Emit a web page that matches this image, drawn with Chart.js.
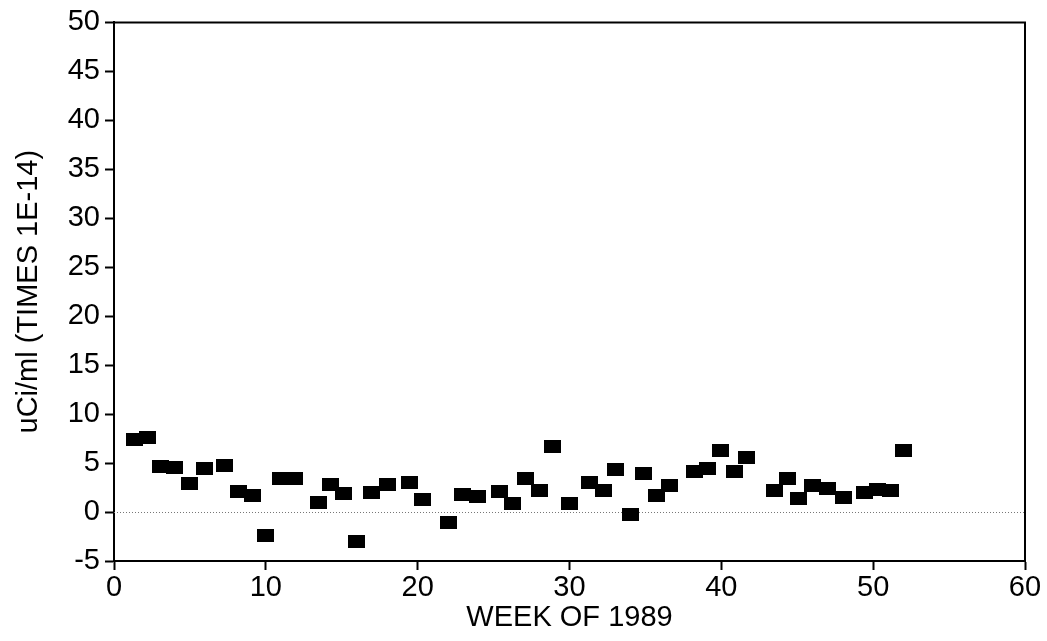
<!DOCTYPE html>
<html>
<head>
<meta charset="utf-8">
<script src="https://cdn.jsdelivr.net/npm/chart.js@4"></script>
<style>
  body { margin: 0; background: #fff; }
</style>
</head>
<body>
<canvas id="myChart" width="1047" height="641"></canvas>
<script>
const weeks = [1.35, 2.2, 3.05, 4.0, 5.0, 5.95, 7.3, 8.2, 9.15, 10.0,
  10.95, 11.9, 13.5, 14.25, 15.1, 15.95, 16.95, 18.0, 19.45, 20.3,
  22.0, 22.95, 23.95, 25.4, 26.25, 27.1, 28.0, 28.9, 30.0, 31.35,
  32.25, 33.05, 34.05, 34.85, 35.75, 36.6, 38.2, 39.1, 39.95, 40.85,
  41.65, 43.5, 44.35, 45.1, 46.0, 47.0, 48.05, 49.45, 50.3, 51.15, 52.0];
const values = [7.45, 7.6, 4.6, 4.5, 2.9, 4.45, 4.75, 2.05, 1.7, -2.4,
  3.4, 3.4, 1.0, 2.85, 1.9, -3.0, 1.95, 2.85, 3.05, 1.25,
  -1.05, 1.75, 1.55, 2.1, 0.85, 3.45, 2.15, 6.65, 0.85, 3.0,
  2.25, 4.35, -0.3, 3.9, 1.7, 2.75, 4.15, 4.45, 6.25, 4.1,
  5.6, 2.15, 3.45, 1.35, 2.75, 2.45, 1.45, 1.95, 2.35, 2.25, 6.25];
const xTicks = [0, 10, 20, 30, 40, 50, 60];
const yTicks = [-5, 0, 5, 10, 15, 20, 25, 30, 35, 40, 45, 50];

const points = weeks.map((w, i) => ({ x: w, y: values[i] }));

// black filled rectangle marker, a bit wider than tall
const marker = document.createElement('canvas');
marker.width = 17;
marker.height = 13;
const mctx = marker.getContext('2d');
mctx.fillStyle = '#000';
mctx.fillRect(0, 0, 17, 13);

// dotted zero line + box frame round the plot
const framePlugin = {
  id: 'frame',
  beforeDatasetsDraw(chart) {
    const { ctx, chartArea, scales } = chart;
    const y0 = Math.round(scales.y.getPixelForValue(0)) + 0.5;
    ctx.save();
    ctx.strokeStyle = '#777';
    ctx.lineWidth = 1;
    ctx.setLineDash([1, 2]);
    ctx.beginPath();
    ctx.moveTo(chartArea.left, y0);
    ctx.lineTo(chartArea.right, y0);
    ctx.stroke();
    ctx.restore();
  },
  afterDraw(chart) {
    const { ctx, chartArea } = chart;
    ctx.save();
    ctx.strokeStyle = '#000';
    ctx.lineWidth = 2;
    ctx.beginPath();
    ctx.moveTo(chartArea.left, chartArea.top);
    ctx.lineTo(chartArea.right, chartArea.top);
    ctx.lineTo(chartArea.right, chartArea.bottom);
    ctx.stroke();
    ctx.restore();
  }
};

const tickFont = { family: "'Liberation Sans', Arial, sans-serif", size: 29 };
const titleFont = { family: "'Liberation Sans', Arial, sans-serif", size: 29 };

const ctx = document.getElementById('myChart').getContext('2d');
const myChart = new Chart(ctx, {
  type: 'scatter',
  data: {
    datasets: [{
      data: points,
      pointStyle: marker,
      backgroundColor: '#000',
      borderColor: '#000'
    }]
  },
  options: {
    responsive: false,
    animation: false,
    layout: { padding: { top: 21, right: 22, bottom: 0, left: 0 } },
    plugins: {
      legend: { display: false },
      tooltip: { enabled: false }
    },
    scales: {
      x: {
        type: 'linear',
        min: xTicks[0],
        max: xTicks[xTicks.length - 1],
        afterBuildTicks: (s) => { s.ticks = xTicks.map(v => ({ value: v })); },
        afterFit: (s) => { s.height = 80; },
        grid: { drawOnChartArea: false, color: '#000', tickLength: 9, tickWidth: 2 },
        border: { color: '#000', width: 2 },
        ticks: { color: '#000', font: tickFont, padding: 1, maxRotation: 0 },
        title: {
          display: true,
          text: 'WEEK OF 1989',
          color: '#000',
          font: titleFont,
          padding: { top: 0, bottom: 6 }
        }
      },
      y: {
        min: yTicks[0],
        max: yTicks[yTicks.length - 1],
        afterBuildTicks: (s) => { s.ticks = yTicks.map(v => ({ value: v })); },
        afterFit: (s) => { s.width = 114; },
        grid: { drawOnChartArea: false, color: '#000', tickLength: 9, tickWidth: 2 },
        border: { color: '#000', width: 2 },
        ticks: { color: '#000', font: tickFont, padding: 5 },
        title: {
          display: true,
          text: 'uCi/ml (TIMES 1E-14)',
          color: '#000',
          font: titleFont,
          padding: { top: 12, bottom: 0 }
        }
      }
    }
  },
  plugins: [framePlugin]
});
</script>
</body>
</html>
